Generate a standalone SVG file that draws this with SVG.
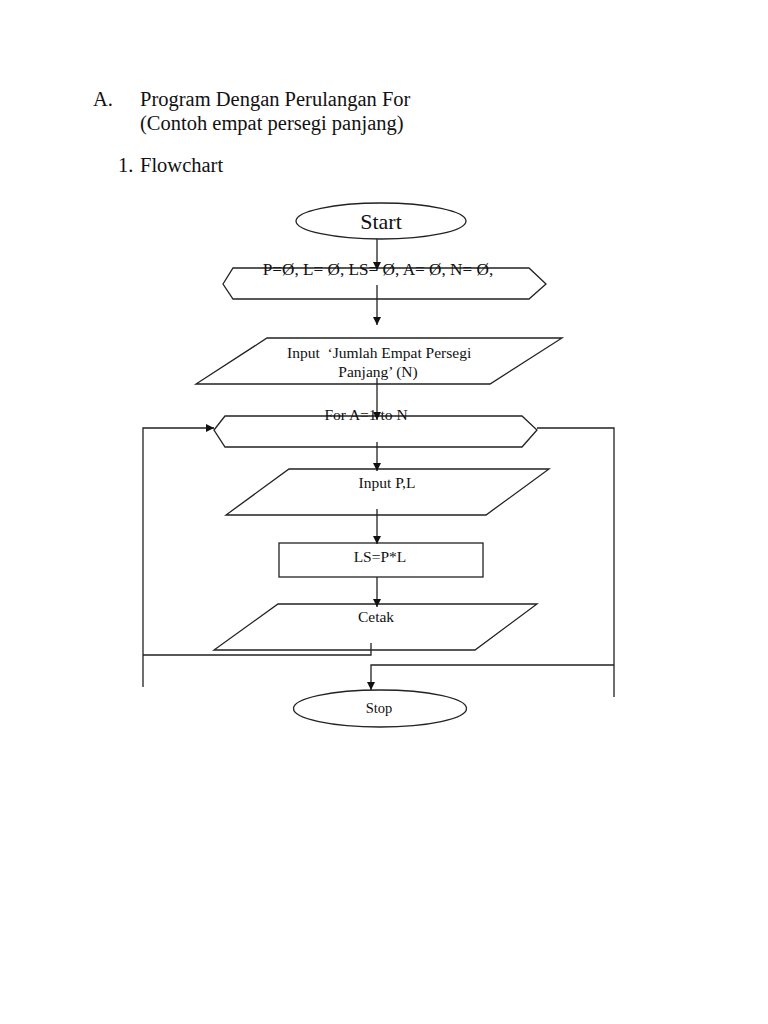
<svg xmlns="http://www.w3.org/2000/svg" width="768" height="1024" viewBox="0 0 768 1024">
<style>
.s{fill:#fff;stroke:#222;stroke-width:1.3}
.c{fill:none;stroke:#222;stroke-width:1.3}
.t{font-family:"Liberation Serif","Times New Roman",serif;fill:#111}
.h{font-size:20.5px}
.n{font-size:15.5px}
</style>
<defs>
<marker id="a" markerWidth="8" markerHeight="8" refX="8" refY="4" orient="auto" markerUnits="userSpaceOnUse">
<path d="M0,0 L8,4 L0,8 Z" fill="#111"/>
</marker>
</defs>
<rect width="768" height="1024" fill="#fff"/>
<g id="title">
<text class="t h" x="93" y="106">A.</text>
<text class="t h" x="140" y="106">Program Dengan Perulangan For</text>
<text class="t h" x="140" y="130">(Contoh empat persegi panjang)</text>
<text class="t h" x="118" y="172">1.</text>
<text class="t h" x="140" y="172">Flowchart</text>
</g>
<g id="start">
<ellipse class="s" cx="381" cy="221" rx="85" ry="18"/>
<text class="t" x="381" y="229" font-size="22" text-anchor="middle">Start</text>
</g>
<g id="init">
<polygon class="s" points="223,284 233,268 529,268 546,284 529,299 233,299"/>
</g>
<g id="input-n">
<polygon class="s" points="267,338 562,338 490,384 196,384"/>
<text class="t n" x="287" y="358" xml:space="preserve">Input  ‘Jumlah Empat Persegi</text>
<text class="t n" x="378" y="377" text-anchor="middle">Panjang’ (N)</text>
</g>
<g id="for">
<polygon class="s" points="214,430 225,416 522,416 537,430 522,447 225,447"/>
</g>
<g id="input-pl">
<polygon class="s" points="289,469 549,469 486,515 226,515"/>
<text class="t n" x="387" y="488" text-anchor="middle">Input P,L</text>
</g>
<g id="process">
<rect class="s" x="279" y="543" width="204" height="34"/>
<text class="t n" x="380" y="562" text-anchor="middle">LS=P*L</text>
</g>
<g id="cetak">
<polygon class="s" points="278,604 537,604 475,650 214,650"/>
<text class="t n" x="376" y="622" text-anchor="middle">Cetak</text>
</g>
<g id="stop">
<ellipse class="s" cx="380" cy="708.5" rx="86.5" ry="18.5"/>
<text class="t" x="379" y="713" font-size="14.5" text-anchor="middle">Stop</text>
</g>
<g id="connectors">
<line class="c" x1="377" y1="239" x2="377" y2="270" marker-end="url(#a)"/>
<line class="c" x1="377" y1="285" x2="377" y2="325" marker-end="url(#a)"/>
<line class="c" x1="377" y1="378" x2="377" y2="420" marker-end="url(#a)"/>
<line class="c" x1="377" y1="442" x2="377" y2="471" marker-end="url(#a)"/>
<line class="c" x1="377" y1="509" x2="377" y2="544" marker-end="url(#a)"/>
<line class="c" x1="377" y1="577" x2="377" y2="607" marker-end="url(#a)"/>
<polyline class="c" points="371,643 371,655 143,655"/>
<polyline class="c" points="143,687 143,428 214,428" marker-end="url(#a)"/>
<polyline class="c" points="537,428 614,428 614,697"/>
<polyline class="c" points="614,665 371,665 371,690" marker-end="url(#a)"/>
</g>
<g id="labels">
<text class="t" x="378" y="275" font-size="17.2" text-anchor="middle">P=Ø, L= Ø, LS= Ø, A= Ø, N= Ø,</text>
<text class="t n" x="366" y="420" text-anchor="middle">For A=1 to N</text>
</g>
</svg>
